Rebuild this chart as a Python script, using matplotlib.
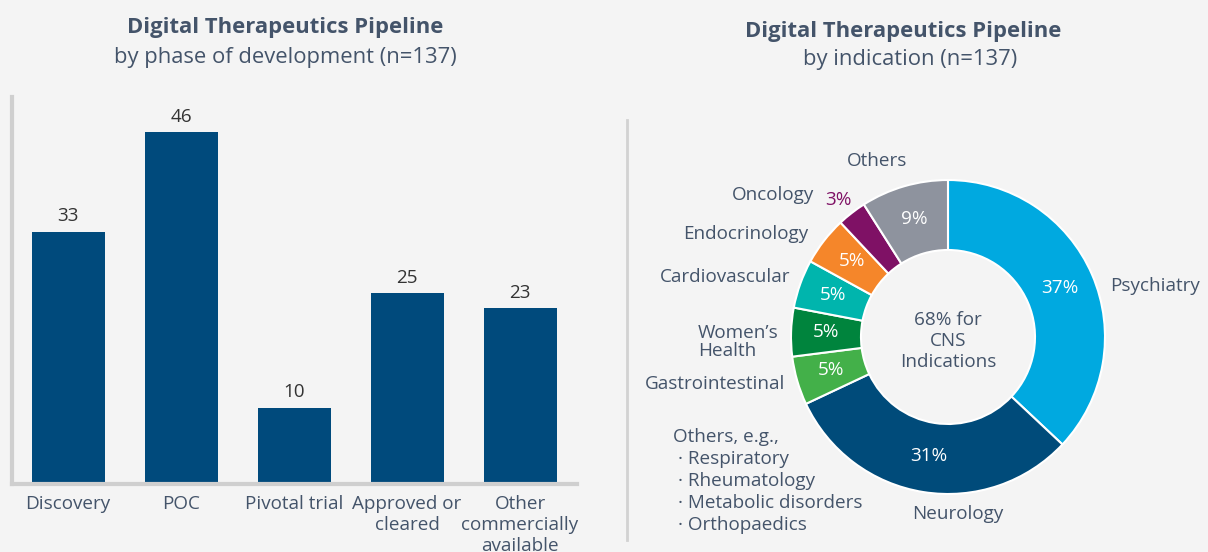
import matplotlib
matplotlib.use("Agg")
import matplotlib.pyplot as plt
import numpy as np

plt.rcParams['font.family'] = ['Open Sans', 'Noto Sans', 'DejaVu Sans']

# ---- data ----
phases = ["Discovery", "POC", "Pivotal trial", "Approved or\ncleared", "Other\ncommercially\navailable"]
phase_counts = [33, 46, 10, 25, 23]

indications = ["Psychiatry", "Neurology", "Gastrointestinal", "Women\u2019s\nHealth",
               "Cardiovascular", "Endocrinology", "Oncology", "Others"]
indication_pct = [37, 31, 5, 5, 5, 5, 3, 9]
indication_colors = ["#00A9E0", "#004B7A", "#43B049", "#00843D",
                     "#00B5AD", "#F5862A", "#7F1165", "#8E939E"]
others_eg = ["Respiratory", "Rheumatology", "Metabolic disorders", "Orthopaedics"]

BG = "#F4F4F4"
TXT = "#44546A"
FS = 13.6
TFS = 15.8
W, H = 1208, 552
fig = plt.figure(figsize=(W / 100, H / 100), dpi=100, facecolor=BG)

def px_axes(x0, y_top, x1, y_bot):
    return fig.add_axes([x0 / W, 1 - y_bot / H, (x1 - x0) / W, (y_bot - y_top) / H])

# ---- titles ----
fig.text(285 / W, 1 - 28 / H, "Digital Therapeutics Pipeline", ha="center", va="center",
         fontsize=TFS, fontweight="bold", color=TXT)
fig.text(285 / W, 1 - 57 / H, "by phase of development (n=137)", ha="center", va="center",
         fontsize=TFS, color=TXT)
fig.text(903 / W, 1 - 31 / H, "Digital Therapeutics Pipeline", ha="center", va="center",
         fontsize=TFS, fontweight="bold", color=TXT)
fig.text(910 / W, 1 - 59 / H, "by indication (n=137)", ha="center", va="center",
         fontsize=TFS, color=TXT)

# ---- bar chart ----
ax = px_axes(12, 97, 577, 484)
ax.set_facecolor("none")
x = np.arange(len(phases))
ax.bar(x, phase_counts, width=0.646, color="#004A7C")
ax.set_xlim(-0.496, 4.504)
ax.set_ylim(0, 50.6)
for xi, v in zip(x, phase_counts):
    ax.text(xi, v + 0.8, str(v), ha="center", va="bottom", fontsize=FS, color="#333333")
for s in ["top", "right"]:
    ax.spines[s].set_visible(False)
for s in ["left", "bottom"]:
    ax.spines[s].set_color("#CFCFCF")
    ax.spines[s].set_linewidth(3)
ax.set_yticks([])
ax.set_xticks(x)
ax.set_xticklabels(phases, fontsize=FS, color=TXT, linespacing=1.2)
ax.tick_params(axis="x", length=0, pad=8)

# ---- divider ----
fig.add_artist(plt.Line2D([627 / W, 627 / W], [1 - 120 / H, 1 - 540 / H],
                          color="#D2D2D2", lw=2))

# ---- donut ----
cx, cy = 948, 337
R = 200
pax = px_axes(cx - R, cy - R, cx + R, cy + R)
outer, inner = 157, 87
wedges, _ = pax.pie(indication_pct, colors=indication_colors, radius=outer,
                    startangle=90, counterclock=False,
                    wedgeprops=dict(width=outer - inner, edgecolor="white", linewidth=1.5))
pax.set_xlim(-R, R)
pax.set_ylim(-R, R)
pax.set_aspect("equal")
pax.axis("off")

rmid = (outer + inner) / 2
for w, p in zip(wedges, indication_pct):
    ang = np.deg2rad((w.theta1 + w.theta2) / 2)
    if p == 3:
        continue
    pax.text(rmid * np.cos(ang), rmid * np.sin(ang) + 1, f"{p}%", ha="center", va="center",
             fontsize=FS, color="white")

# labels (offsets in pixels from center, y up)
lab = dict(fontsize=FS, color=TXT, va="center")
pax.text(162, 51, indications[0], ha="left", **lab)
pax.text(10, -177, indications[1], ha="center", **lab)
pax.text(-163, -47, indications[2], ha="right", **lab)
pax.text(-250, -5, indications[3], ha="left", linespacing=1.05, **lab)
pax.text(-158, 60, indications[4], ha="right", **lab)
pax.text(-140, 103, indications[5], ha="right", **lab)
pax.text(-134, 142, indications[6], ha="right", **lab)
pax.text(-123, 137, f"{indication_pct[6]}%", ha="left", fontsize=FS, color="#7F1165", va="center")
pax.text(-71, 176, indications[7], ha="center", **lab)
pax.text(0, -4, "68% for\nCNS\nIndications", ha="center", va="center", fontsize=FS,
         color=TXT, linespacing=1.22)

pax.text(-275, -100, "Others, e.g.,", ha="left", **lab)
for i, t in enumerate(others_eg):
    pax.text(-270, -122 - 22 * i, "\u00b7 " + t, ha="left", **lab)

for t in pax.texts:
    t.set_clip_on(False)

fig.savefig("out.png", dpi=100, facecolor=BG)
